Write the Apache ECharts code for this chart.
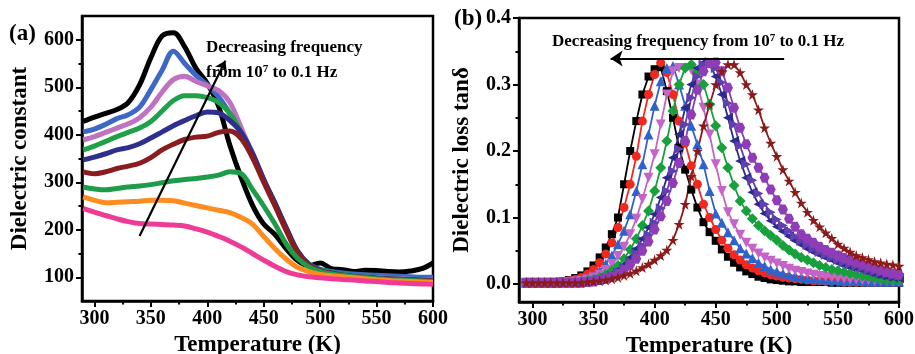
<!DOCTYPE html>
<html>
<head>
<meta charset="utf-8">
<script src="https://cdn.jsdelivr.net/npm/echarts@6.0.0/dist/echarts.min.js"></script>
<style>
    html, body { margin: 0; padding: 0; background: #fff; }
    #chart { width: 915px; height: 354px; }
</style>
</head>
<body>
<div id="chart"></div>
<script>
    // ---- panel (a): dielectric constant, one line per frequency ----
    var tempA = [290, 300, 310, 320, 330, 340, 350, 360, 370, 380,
                 390, 400, 410, 420, 430, 440, 450, 460, 470, 480,
                 490, 500, 510, 520, 530, 540, 550, 560, 570, 580,
                 590, 600];
    var epsBlack  = [428, 437, 445, 453, 468, 505, 562, 608, 615, 585, 540, 508, 460, 378, 310, 252, 212, 190, 160, 135, 124, 130, 118, 116, 112, 115, 114, 112, 111, 113, 118, 130];
    var epsBlue   = [406, 412, 422, 434, 442, 458, 495, 536, 576, 550, 525, 505, 480, 445, 403, 355, 305, 255, 203, 155, 128, 117, 112, 109, 107, 105, 104, 103, 102, 101, 100, 100];
    var epsViolet = [389, 396, 405, 414, 423, 436, 458, 490, 516, 523, 512, 503, 493, 468, 415, 360, 305, 252, 200, 152, 125, 114, 108, 105, 102, 100, 99, 98, 97, 96, 95, 94];
    var epsGreen  = [368, 376, 386, 396, 405, 414, 428, 450, 472, 482, 482, 478, 468, 445, 405, 358, 305, 254, 202, 154, 127, 115, 110, 106, 103, 101, 99, 97, 96, 95, 94, 93];
    var epsNavy   = [347, 353, 360, 368, 373, 381, 393, 406, 419, 430, 440, 448, 446, 430, 405, 362, 306, 256, 204, 155, 127, 114, 109, 105, 102, 100, 98, 97, 96, 95, 94, 93];
    var epsRed    = [322, 318, 322, 329, 334, 340, 352, 368, 380, 390, 395, 397, 405, 408, 392, 352, 300, 250, 198, 152, 126, 113, 108, 104, 101, 99, 97, 96, 95, 94, 93, 92];
    var epsGreen2 = [290, 286, 284, 287, 290, 292, 295, 299, 303, 306, 308, 311, 315, 322, 318, 285, 250, 212, 170, 140, 122, 112, 107, 104, 101, 99, 97, 95, 94, 93, 92, 91];
    var epsOrange = [269, 262, 257, 258, 259, 260, 262, 262, 261, 256, 251, 246, 241, 236, 226, 212, 186, 160, 138, 121, 112, 106, 103, 101, 99, 97, 95, 93, 92, 91, 90, 89];
    var epsPink   = [245, 237, 230, 223, 217, 213, 212, 211, 210, 208, 202, 195, 186, 176, 164, 150, 136, 123, 112, 105, 101, 99, 97, 95, 94, 92, 91, 89, 88, 87, 86, 85];

    // ---- panel (b): dielectric loss, one marker line per frequency ----
    var tempB = [295, 300, 305, 310, 315, 320, 325, 330, 335, 340,
                 345, 350, 355, 360, 365, 370, 375, 380, 385, 390,
                 395, 400, 405, 410, 415, 420, 425, 430, 435, 440,
                 445, 450, 455, 460, 465, 470, 475, 480, 485, 490,
                 495, 500, 505, 510, 515, 520, 525, 530, 535, 540,
                 545, 550, 555, 560, 565, 570, 575, 580, 585, 590,
                 595, 600];
    var lossBlack = [0.002, 0.002, 0.002, 0.002, 0.003, 0.003, 0.004, 0.006, 0.009, 0.013,
                     0.019, 0.028, 0.040, 0.055, 0.075, 0.100, 0.150, 0.200, 0.245, 0.285,
                     0.312, 0.323, 0.326, 0.290, 0.250, 0.205, 0.172, 0.142, 0.115, 0.093,
                     0.078, 0.065, 0.052, 0.041, 0.032, 0.025, 0.019, 0.015, 0.011, 0.009,
                     0.007, 0.006, 0.005, 0.004, 0.004, 0.003, 0.003, 0.003, 0.003, 0.003,
                     0.002, 0.002, 0.002, 0.002, 0.002, 0.002, 0.002, 0.002, 0.002, 0.002,
                     0.002, 0.002];
    var lossRed = [0.002, 0.002, 0.002, 0.002, 0.002, 0.003, 0.004, 0.005, 0.007, 0.010,
                   0.015, 0.022, 0.032, 0.045, 0.062, 0.085, 0.115, 0.150, 0.192, 0.245,
                   0.285, 0.315, 0.333, 0.318, 0.285, 0.245, 0.212, 0.178, 0.150, 0.120,
                   0.100, 0.082, 0.066, 0.054, 0.044, 0.036, 0.029, 0.024, 0.020, 0.017,
                   0.014, 0.012, 0.010, 0.009, 0.008, 0.007, 0.006, 0.005, 0.005, 0.004,
                   0.004, 0.004, 0.003, 0.003, 0.003, 0.003, 0.003, 0.003, 0.003, 0.003,
                   0.003, 0.003];
    var lossBlue = [0.002, 0.002, 0.002, 0.002, 0.002, 0.002, 0.003, 0.004, 0.005, 0.007,
                    0.010, 0.014, 0.020, 0.030, 0.043, 0.060, 0.080, 0.105, 0.140, 0.180,
                    0.225, 0.268, 0.305, 0.325, 0.328, 0.300, 0.268, 0.238, 0.210, 0.180,
                    0.140, 0.106, 0.092, 0.078, 0.066, 0.054, 0.046, 0.039, 0.032, 0.027,
                    0.022, 0.019, 0.016, 0.014, 0.012, 0.010, 0.009, 0.008, 0.007, 0.007,
                    0.006, 0.006, 0.005, 0.005, 0.005, 0.005, 0.004, 0.004, 0.004, 0.004,
                    0.004, 0.004];
    var lossViolet = [0.002, 0.002, 0.002, 0.002, 0.002, 0.002, 0.002, 0.003, 0.004, 0.005,
                      0.007, 0.010, 0.014, 0.021, 0.030, 0.042, 0.056, 0.075, 0.098, 0.128,
                      0.160, 0.195, 0.240, 0.285, 0.320, 0.325, 0.325, 0.322, 0.300, 0.265,
                      0.225, 0.180, 0.140, 0.108, 0.090, 0.074, 0.062, 0.053, 0.046, 0.040,
                      0.035, 0.031, 0.027, 0.023, 0.020, 0.018, 0.016, 0.014, 0.012, 0.011,
                      0.010, 0.009, 0.008, 0.007, 0.007, 0.006, 0.006, 0.005, 0.005, 0.005,
                      0.004, 0.004];
    var lossGreen = [0.002, 0.002, 0.002, 0.002, 0.002, 0.002, 0.002, 0.002, 0.003, 0.004,
                     0.005, 0.007, 0.010, 0.014, 0.020, 0.028, 0.038, 0.052, 0.068, 0.088,
                     0.110, 0.140, 0.175, 0.215, 0.260, 0.300, 0.325, 0.330, 0.320, 0.300,
                     0.270, 0.238, 0.205, 0.175, 0.148, 0.125, 0.110, 0.098, 0.088, 0.080,
                     0.073, 0.066, 0.058, 0.051, 0.045, 0.040, 0.036, 0.032, 0.028, 0.025,
                     0.022, 0.020, 0.018, 0.016, 0.014, 0.012, 0.011, 0.009, 0.008, 0.007,
                     0.007, 0.006];
    var lossNavy = [0.002, 0.002, 0.002, 0.002, 0.002, 0.002, 0.002, 0.002, 0.002, 0.003,
                    0.004, 0.006, 0.008, 0.011, 0.015, 0.021, 0.029, 0.040, 0.053, 0.068,
                    0.085, 0.105, 0.130, 0.160, 0.190, 0.225, 0.265, 0.300, 0.325, 0.333,
                    0.330, 0.312, 0.285, 0.250, 0.215, 0.185, 0.160, 0.138, 0.120, 0.106,
                    0.095, 0.086, 0.079, 0.072, 0.065, 0.059, 0.053, 0.048, 0.044, 0.040,
                    0.036, 0.032, 0.029, 0.026, 0.024, 0.021, 0.018, 0.015, 0.013, 0.011,
                    0.010, 0.009];
    var lossIndigo = [0.002, 0.002, 0.002, 0.002, 0.002, 0.002, 0.002, 0.002, 0.002, 0.002,
                      0.003, 0.005, 0.007, 0.009, 0.013, 0.018, 0.025, 0.034, 0.045, 0.058,
                      0.074, 0.092, 0.114, 0.140, 0.170, 0.203, 0.240, 0.280, 0.312, 0.330,
                      0.334, 0.325, 0.303, 0.272, 0.240, 0.208, 0.180, 0.156, 0.136, 0.120,
                      0.108, 0.097, 0.088, 0.080, 0.072, 0.065, 0.059, 0.053, 0.048, 0.044,
                      0.040, 0.036, 0.033, 0.030, 0.027, 0.024, 0.021, 0.019, 0.017, 0.015,
                      0.013, 0.012];
    var lossPurple = [0.002, 0.002, 0.002, 0.002, 0.002, 0.002, 0.002, 0.002, 0.002, 0.002,
                      0.003, 0.004, 0.006, 0.008, 0.011, 0.015, 0.021, 0.029, 0.038, 0.050,
                      0.064, 0.082, 0.102, 0.125, 0.152, 0.182, 0.215, 0.255, 0.292, 0.320,
                      0.332, 0.333, 0.320, 0.295, 0.265, 0.235, 0.210, 0.190, 0.175, 0.160,
                      0.142, 0.126, 0.112, 0.098, 0.086, 0.075, 0.068, 0.062, 0.056, 0.051,
                      0.047, 0.043, 0.039, 0.036, 0.033, 0.030, 0.027, 0.024, 0.021, 0.018,
                      0.016, 0.014];
    var lossStar = [0.002, 0.002, 0.002, 0.002, 0.002, 0.002, 0.002, 0.002, 0.002, 0.002,
                    0.003, 0.004, 0.005, 0.006, 0.008, 0.010, 0.013, 0.016, 0.020, 0.025,
                    0.030, 0.036, 0.043, 0.051, 0.066, 0.090, 0.120, 0.162, 0.200, 0.238,
                    0.270, 0.300, 0.320, 0.330, 0.330, 0.318, 0.300, 0.285, 0.262, 0.235,
                    0.212, 0.192, 0.172, 0.155, 0.138, 0.122, 0.108, 0.096, 0.086, 0.077,
                    0.069, 0.060, 0.054, 0.048, 0.043, 0.040, 0.037, 0.034, 0.032, 0.030,
                    0.029, 0.027];

    // tick labels
    var xMajor = [300, 350, 400, 450, 500, 550, 600];
    var xMinor = [325, 375, 425, 475, 525, 575];
    var yMajorA = [100, 200, 300, 400, 500, 600];
    var yMinorA = [150, 250, 350, 450, 550];
    var yMajorB = [0, 0.1, 0.2, 0.3, 0.4];
    var yMinorB = [0.05, 0.15, 0.25, 0.35];

    var SERIF = '"Liberation Serif", "DejaVu Serif", serif';
    var STAR = 'path://M50,0 L61,35 L98,35 L68,57 L79,91 L50,70 L21,91 L32,57 L2,35 L39,35 Z';
    var HEXAGON = 'path://M25,0 L75,0 L100,43 L75,87 L25,87 L0,43 Z';

    var linesA = [
        {data: epsBlack, color: '#000000'},
        {data: epsBlue, color: '#3e68c6'},
        {data: epsViolet, color: '#c071c2'},
        {data: epsGreen, color: '#20a048'},
        {data: epsNavy, color: '#2f2f8e'},
        {data: epsRed, color: '#8a1c1f'},
        {data: epsGreen2, color: '#1e9c4a'},
        {data: epsOrange, color: '#ff8c1e'},
        {data: epsPink, color: '#ee3c96'}
    ];
    var linesB = [
        {data: lossBlack, color: '#000000', symbol: 'rect', size: 8, rotate: 0},
        {data: lossRed, color: '#f2281f', symbol: 'circle', size: 9, rotate: 0},
        {data: lossBlue, color: '#3063c9', symbol: 'triangle', size: 10, rotate: 0},
        {data: lossViolet, color: '#c464c8', symbol: 'triangle', size: 10, rotate: 180},
        {data: lossGreen, color: '#17a03c', symbol: 'diamond', size: 11, rotate: 0},
        {data: lossNavy, color: '#2c2a8c', symbol: 'triangle', size: 10, rotate: 90},
        {data: lossIndigo, color: '#5f40ae', symbol: 'triangle', size: 10, rotate: -90},
        {data: lossPurple, color: '#8e3db6', symbol: HEXAGON, size: 10, rotate: 0},
        {data: lossStar, color: '#8b1a1a', symbol: STAR, size: 11, rotate: 0}
    ];

    var labelStyle = {color: '#000', fontFamily: SERIF, fontWeight: 'bold', fontSize: 20};
    var nameStyle = {color: '#000', fontFamily: SERIF, fontWeight: 'bold', fontSize: 23};

    function mainAxis(gridIndex, pos, min, max, ticks, name, gap, fmt) {
        return {
            gridIndex: gridIndex,
            position: pos,
            type: 'value',
            min: min,
            max: max,
            name: name,
            nameLocation: 'middle',
            nameGap: gap,
            nameTextStyle: nameStyle,
            axisLine: {show: true, onZero: false, lineStyle: {color: '#000', width: 2.5}},
            axisTick: {show: true, customValues: ticks, length: 6, lineStyle: {color: '#000', width: 2}},
            axisLabel: Object.assign({customValues: ticks, margin: 8, formatter: fmt}, labelStyle),
            splitLine: {show: false}
        };
    }
    function minorAxis(gridIndex, pos, min, max, ticks) {
        return {
            gridIndex: gridIndex,
            position: pos,
            type: 'value',
            min: min,
            max: max,
            axisLine: {show: false, onZero: false},
            axisTick: {show: true, customValues: ticks, length: 3.5, lineStyle: {color: '#000', width: 2}},
            axisLabel: {show: false},
            splitLine: {show: false}
        };
    }
    function pairs(xs, ys) {
        return xs.map(function (x, i) { return [x, ys[i]]; });
    }

    var series = [];
    linesA.forEach(function (s) {
        series.push({
            type: 'line',
            xAxisIndex: 0,
            yAxisIndex: 0,
            data: pairs(tempA, s.data),
            showSymbol: false,
            smooth: 0.35,
            lineStyle: {color: s.color, width: 5},
            itemStyle: {color: s.color},
            z: 2
        });
    });
    linesB.forEach(function (s) {
        series.push({
            type: 'line',
            xAxisIndex: 2,
            yAxisIndex: 2,
            data: pairs(tempB, s.data),
            symbol: s.symbol,
            symbolSize: s.size,
            symbolRotate: s.rotate,
            showAllSymbol: true,
            lineStyle: {color: s.color, width: 1.8},
            itemStyle: {color: s.color},
            z: 2
        });
    });

    // annotation arrows, placed in data coordinates
    series[0].markLine = {
        silent: true,
        animation: false,
        symbol: ['none', 'arrow'],
        symbolSize: 10,
        label: {show: false},
        lineStyle: {color: '#000', width: 2.2, type: 'solid'},
        data: [[{coord: [340, 187]}, {coord: [416, 556]}]]
    };
    series[9].markLine = {
        silent: true,
        animation: false,
        symbol: ['none', 'arrow'],
        symbolSize: 12,
        label: {show: false},
        lineStyle: {color: '#000', width: 2, type: 'solid'},
        data: [[{coord: [506, 0.339]}, {coord: [364, 0.339]}]]
    };

    var annoFont = 'bold 17px ' + SERIF;
    var supRich = {sup: {fontSize: 11, fontWeight: 'bold', fontFamily: SERIF, verticalAlign: 'top', padding: [0, 0, 8, 0]}};

    var chart = echarts.init(document.getElementById('chart'));
    chart.setOption({
        animation: false,
        backgroundColor: '#fff',
        grid: [
            {left: 82, top: 16, width: 351, height: 285, show: true, borderColor: '#000', borderWidth: 2.5, containLabel: false, outerBoundsMode: 'none'},
            {left: 519, top: 18, width: 380, height: 284, show: true, borderColor: '#000', borderWidth: 2.5, containLabel: false, outerBoundsMode: 'none'}
        ],
        xAxis: [
            mainAxis(0, 'bottom', 289, 600, xMajor, 'Temperature (K)', 28),
            minorAxis(0, 'bottom', 289, 600, xMinor),
            mainAxis(1, 'bottom', 289, 600, xMajor, 'Temperature (K)', 28),
            minorAxis(1, 'bottom', 289, 600, xMinor)
        ],
        yAxis: [
            mainAxis(0, 'left', 50, 650, yMajorA, 'Dielectric constant', 50),
            minorAxis(0, 'left', 50, 650, yMinorA),
            mainAxis(1, 'left', -0.027, 0.4, yMajorB, 'Dielectric loss tan\u03b4', 45, function (v) { return v.toFixed(1); }),
            minorAxis(1, 'left', -0.027, 0.4, yMinorB)
        ],
        series: series,
        graphic: [
            {type: 'text', x: 9, y: 34, style: {text: '(a)', font: 'bold 23px ' + SERIF, fill: '#000', verticalAlign: 'middle'}},
            {type: 'text', x: 454, y: 19, style: {text: '(b)', font: 'bold 23px ' + SERIF, fill: '#000', verticalAlign: 'middle'}},
            {type: 'text', x: 206, y: 48, style: {text: 'Decreasing frequency', font: annoFont, fill: '#000', verticalAlign: 'middle'}},
            {type: 'text', x: 206, y: 73, style: {text: 'from 10{sup|7} to 0.1 Hz', font: annoFont, fill: '#000', verticalAlign: 'middle', rich: supRich}},
            {type: 'text', x: 552, y: 42, style: {text: 'Decreasing frequency from 10{sup|7} to 0.1 Hz', font: annoFont, fill: '#000', verticalAlign: 'middle', rich: supRich}}
        ]
    });
</script>
</body>
</html>
